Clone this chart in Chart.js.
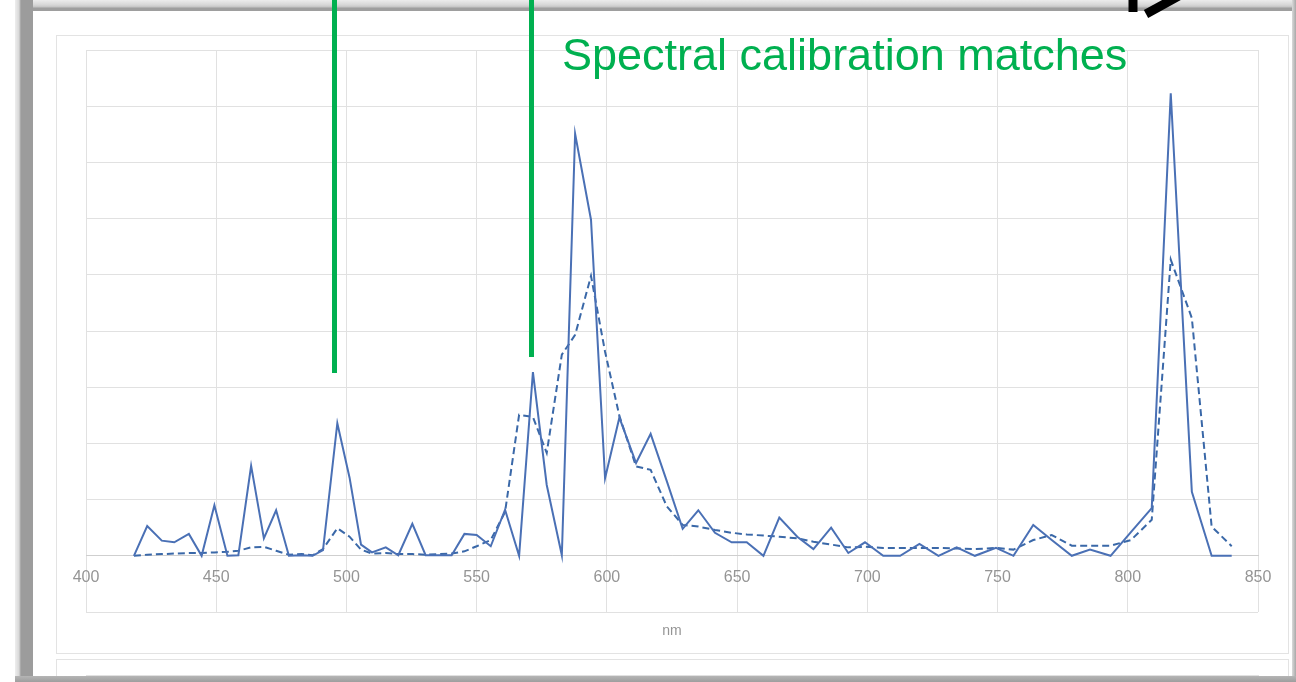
<!DOCTYPE html>
<html>
<head>
<meta charset="utf-8">
<title>Spectral calibration</title>
<script src="https://cdn.jsdelivr.net/npm/chart.js@4/dist/chart.umd.min.js"></script>
<style>
  html, body { margin: 0; padding: 0; background: #fff; }
  #stage {
    position: relative; width: 1296px; height: 682px; overflow: hidden;
    background: #fff; font-family: "Liberation Sans", Arial, sans-serif;
  }
  .card { position: absolute; border: 1px solid #e3e3e3; background: #fff; box-sizing: border-box; }
  #card1 { left: 56px; top: 35px; width: 1233px; height: 619px; }
  #card2 { left: 56px; top: 659px; width: 1233px; height: 80px; }
  canvas { position: absolute; left: 0; }
  #main { top: 0; }
  #lower { top: 659px; }
  #frameTop {
    position: absolute; left: 15px; right: 0; top: 0; height: 11px;
    background: linear-gradient(#ececec 0px, #d6d6d6 5px, #c4c4c4 7px, #9e9e9e 8px, #9e9e9e 11px);
  }
  #frameLeft {
    position: absolute; left: 15px; top: 0; bottom: 0; width: 18px;
    background: linear-gradient(to right, #eeeeee 0px, #d8d8d8 4px, #9c9c9c 6px, #9c9c9c 18px);
  }
  #frameRight {
    position: absolute; right: 0; top: 0; bottom: 0; width: 4px;
    background: linear-gradient(to right, #dadada, #a8a8a8);
  }
  #frameBottom {
    position: absolute; left: 15px; right: 0; bottom: 0; height: 6px;
    background: linear-gradient(#b5b5b5, #9e9e9e);
  }
  #notes { position: absolute; left: 0; top: 0; }
</style>
</head>
<body>
<div id="stage">
  <div class="card" id="card1"></div>
  <div class="card" id="card2"></div>
  <canvas id="main" width="1296" height="682"></canvas>
  <canvas id="lower" width="1296" height="80"></canvas>
  <div id="frameTop"></div>
  <div id="frameLeft"></div>
  <div id="frameRight"></div>
  <div id="frameBottom"></div>
  <svg id="notes" width="1296" height="682" xmlns="http://www.w3.org/2000/svg">
    <!-- marker lines at the matched peaks -->
    <rect x="332" y="0" width="5" height="373" fill="#00b050"/>
    <rect x="529" y="0" width="5" height="357" fill="#00b050"/>
    <text x="562" y="70" font-family="Liberation Sans, Arial, sans-serif" font-size="45" fill="#00b050">Spectral calibration matches</text>
    <!-- tail of the pointer arrow -->
    <path d="M1133,-10 L1133,12" stroke="#000" stroke-width="9" fill="none"/>
    <path d="M1146,14 L1186,-8" stroke="#000" stroke-width="9" fill="none"/>
  </svg>
</div>
<script>
// wavelength of each spectrometer sample (nm)
const wavelengths = [
  418.4, 423.5, 429.1, 433.9, 439.5, 444.4, 449.3, 454.3, 458.5, 463.4,
  468.3, 473.0, 477.9, 482.8, 487.0, 491.0, 496.5, 501.2, 505.6, 509.8,
  515.1, 519.9, 525.3, 530.4, 535.3, 540.4, 545.3, 550.0, 555.4, 560.9,
  566.3, 571.6, 576.9, 582.7, 587.8, 593.9, 599.3, 604.8, 611.2, 616.8,
  623.0, 629.1, 635.1, 641.5, 647.9, 653.7, 660.1, 666.2, 673.1, 679.3,
  686.1, 692.7, 699.1, 706.1, 712.6, 720.0, 727.3, 734.3, 741.3, 749.4,
  756.1, 763.7, 770.8, 778.5, 785.5, 793.4, 801.2, 809.2, 816.5, 824.6,
  832.2, 839.9
];

// measured intensity (arbitrary units)
const measured = [
  0, 5.3, 2.7, 2.4, 3.9, 0, 9.0, 0, 0.1, 16.0,
  3.1, 8.1, 0, 0.1, 0, 1.0, 23.6, 13.9, 2.0, 0.6,
  1.5, 0.1, 5.7, 0.1, 0.1, 0.1, 3.9, 3.7, 1.7, 8.2,
  0, 32.7, 12.6, 0.1, 75.1, 59.8, 13.8, 24.6, 16.5, 21.7,
  13.3, 4.8, 8.1, 4.1, 2.4, 2.4, 0, 6.8, 3.4, 1.2,
  5.0, 0.5, 2.4, 0, 0, 2.1, 0, 1.5, 0, 1.4,
  0, 5.5, 2.8, 0, 1.1, 0, 4.2, 8.5, 82.3, 11.4,
  0, 0
];

// reference intensity (arbitrary units)
const reference = [
  0, 0.2, 0.3, 0.4, 0.5, 0.5, 0.6, 0.7, 0.9, 1.5,
  1.6, 0.9, 0.2, 0.3, 0.1, 1.2, 4.9, 3.4, 1.1, 0.4,
  0.5, 0.3, 0.3, 0.2, 0.3, 0.4, 0.8, 1.7, 2.8, 7.8,
  25.1, 24.7, 18.3, 35.8, 39.3, 49.8, 36.3, 24.9, 15.9, 15.3,
  8.8, 5.5, 5.2, 4.6, 4.1, 3.8, 3.6, 3.4, 3.1, 2.5,
  2.0, 1.5, 1.6, 1.4, 1.4, 1.4, 1.4, 1.3, 1.2, 1.4,
  1.1, 2.8, 3.7, 1.8, 1.8, 1.8, 2.8, 6.4, 52.7, 42.3,
  5.2, 1.7
];

// axis settings
const xMin = 400, xMax = 850, xStep = 50;
const yMin = -10, yMax = 90, yStep = 10;

const gridColor = '#e1e1e1';
const labelColor = '#959595';
const fontFamily = '"Liberation Sans", Arial, sans-serif';

const toPoints = (vals) => wavelengths.map((w, i) => ({ x: w, y: vals[i] }));

new Chart(document.getElementById('main'), {
  type: 'line',
  data: {
    datasets: [
      {
        label: 'Measured',
        data: toPoints(measured),
        borderColor: '#4a70b5',
        borderWidth: 2,
        pointRadius: 0,
        tension: 0,
        fill: false
      },
      {
        label: 'Reference',
        data: toPoints(reference),
        borderColor: '#3a68a8',
        borderWidth: 2,
        borderDash: [7, 4],
        pointRadius: 0,
        tension: 0,
        fill: false
      }
    ]
  },
  options: {
    responsive: false,
    animation: false,
    devicePixelRatio: 1,
    layout: { padding: { left: 86, top: 50, right: 38, bottom: 70 } },
    plugins: { legend: { display: false }, tooltip: { enabled: false } },
    scales: {
      x: {
        type: 'linear',
        position: { y: 0 },
        min: xMin, max: xMax,
        ticks: { stepSize: xStep, padding: 12, color: labelColor, font: { family: fontFamily, size: 16 } },
        grid: { color: gridColor, lineWidth: 1, drawTicks: false },
        border: { display: true, color: '#cfcfcf' },
        title: {
          display: true, text: 'nm', color: labelColor,
          font: { family: fontFamily, size: 14 },
          padding: { top: 24, bottom: 0 }
        }
      },
      y: {
        type: 'linear',
        min: yMin, max: yMax,
        ticks: { display: false, stepSize: yStep },
        grid: { color: gridColor, lineWidth: 1, drawTicks: false },
        border: { display: false }
      }
    }
  }
});

// the next panel down, only its top edge shows
new Chart(document.getElementById('lower'), {
  type: 'line',
  data: { datasets: [] },
  options: {
    responsive: false,
    animation: false,
    devicePixelRatio: 1,
    layout: { padding: { left: 86, top: 16, right: 38, bottom: 0 } },
    plugins: { legend: { display: false }, tooltip: { enabled: false } },
    scales: {
      x: {
        type: 'linear', min: xMin, max: xMax,
        ticks: { display: false, stepSize: xStep },
        grid: { color: gridColor, drawTicks: false },
        border: { display: false }
      },
      y: {
        type: 'linear', min: 0, max: 100,
        ticks: { display: false, stepSize: 10 },
        grid: { color: gridColor, drawTicks: false },
        border: { display: false }
      }
    }
  }
});
</script>
</body>
</html>
